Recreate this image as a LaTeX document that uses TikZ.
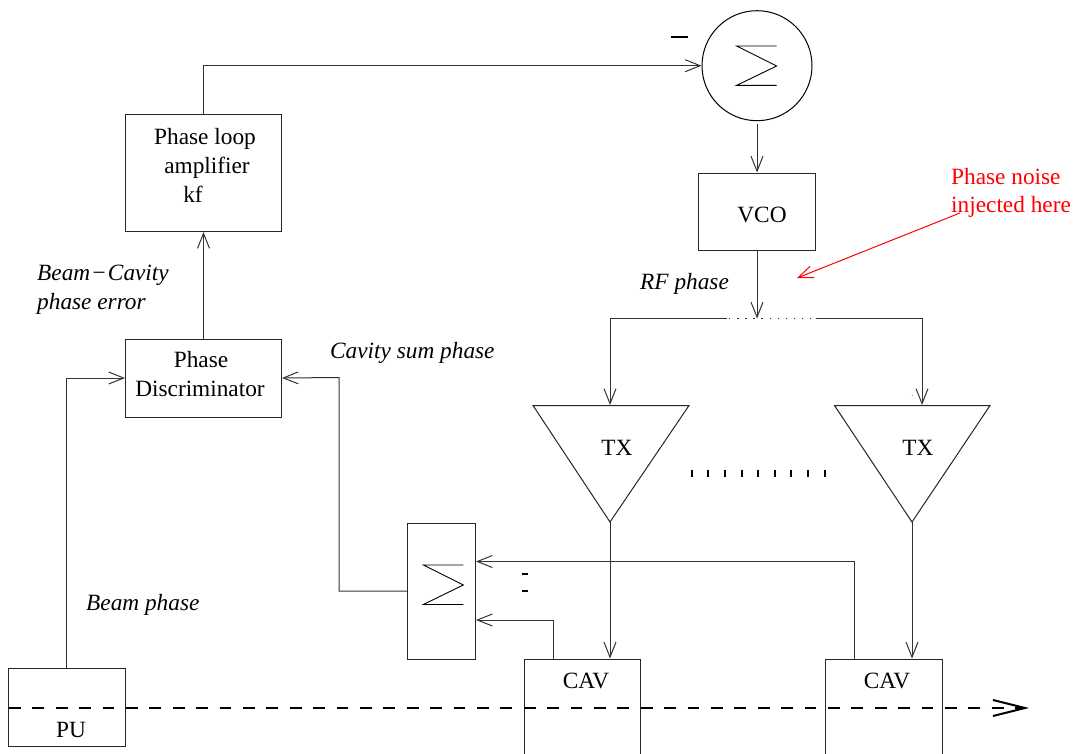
\documentclass[tikz,border=0pt]{standalone}
\usepackage{fontspec}
\setmainfont{Liberation Serif}
\usetikzlibrary{arrows.meta, calc}
\tikzset{
  wire/.style={line width=1pt, black!80},
  sig/.style={wire, -{Straight Barb[length=15pt,width=12pt,line width=1pt]}},
  boxnode/.style={draw, line width=1pt, black!85, inner sep=0pt, anchor=north west},
  lab/.style={font=\fontsize{23.3}{27}\selectfont, inner sep=0pt, anchor=base},
  ilab/.style={font=\fontsize{23.3}{27}\selectfont\itshape, inner sep=0pt, anchor=base west},
  rlab/.style={font=\fontsize{23.3}{27}\selectfont, text=red, inner sep=0pt, anchor=base west},
  sigma/.style={line width=0.9pt},
}
\begin{document}
\begin{tikzpicture}[x=1pt, y=-1pt]
    \clip (0,0) rectangle (1074,753);
    \fill[white] (0,0) rectangle (1074,753);

    % Blocks
    \node[draw, circle, line width=1pt, minimum size=110pt, inner sep=0pt] (sumtop) at (757,65.7) {};
    \node[boxnode, minimum width=117pt, minimum height=77.5pt] (vco) at (698.3,172.5) {};
    \node[boxnode, minimum width=156pt, minimum height=117pt] (amp) at (125,114) {};
    \node[boxnode, minimum width=156pt, minimum height=78pt] (disc) at (125,338.5) {};
    \node[boxnode, minimum width=117pt, minimum height=78pt] (pu) at (8,668) {};
    \node[boxnode, minimum width=68pt, minimum height=136pt] (sumbot) at (407,523) {};
    \node[boxnode, minimum width=116.5pt, minimum height=140pt] (cava) at (523.5,658.5) {};
    \node[boxnode, minimum width=116.5pt, minimum height=140pt] (cavb) at (825,658.5) {};

    % Transmitters
    \coordinate (txatip) at (610,522);
    \coordinate (txbtip) at (912,522);
    \draw[line width=1pt, black!85] (533,405.5) -- (689,405.5) -- (txatip) -- cycle;
    \draw[line width=1pt, black!85] (834.5,405.5) -- (990,405.5) -- (txbtip) -- cycle;

    % Sigma signs
    \draw[sigma] (776.7,46) -- (736.7,46) -- (776.7,66) -- (736.7,85.3) -- (776.7,85.3);
    \draw[sigma] (463.3,565) -- (423.3,565) -- (463.3,585) -- (423.3,604.5) -- (463.3,604.5);

    % Labels
    \node[lab] (amptxta) at (205,144) {Phase loop};
    \node[lab] (amptxtb) at (207,173) {amplifier};
    \node[lab] (amptxtc) at (193,202) {kf};
    \node[lab] (disctxta) at (201,367) {Phase};
    \node[lab] (disctxtb) at (200,396) {Discriminator};
    \node[lab] (vcotxt) at (762,222) {VCO};
    \node[lab] (txatxt) at (617,455) {TX};
    \node[lab] (txbtxt) at (918,455) {TX};
    \node[lab] (cavatxt) at (586,688) {CAV};
    \node[lab] (cavbtxt) at (887,688) {CAV};
    \node[lab] (putxt) at (71,737) {PU};
    \node[ilab] (errtxta) at (37,280) {Beam\kern1pt−\kern1ptCavity};
    \node[ilab] (errtxtb) at (37,309) {phase error};
    \node[ilab] (cavsumtxt) at (330,358) {Cavity sum phase};
    \node[ilab] (rftxt) at (640,289) {RF phase};
    \node[ilab] (beamtxt) at (86,610) {Beam phase};
    \node[rlab] (noisea) at (951,184) {Phase noise};
    \node[rlab] (noiseb) at (951,212) {injected here};

    % Signal path
    \coordinate (split) at (757,318.5);
    \coordinate (spleft) at (727,318.5);
    \coordinate (spright) at (815.5,318.5);
    \coordinate (txain) at (610,405);
    \coordinate (txbin) at (922,405);
    \draw[sig] (amp.north) |- (sumtop.west);
    \draw[sig] ($(sumtop.south)+(0,3)$) -- (sumtop.south |- vco.north);
    \draw[sig] (sumtop.south |- vco.south) -- (split);
    \foreach \x in {0,...,10}{
      \fill[black!85] (729+\x*8.1,318) rectangle +(1.4,1.2);
    }
    \draw[sig] (spleft) -| (txain);
    \draw[sig] (spright) -| (txbin);
    \draw[sig] (txatip) -- (txatip |- cava.north);
    \draw[sig] (txbtip) -- (txbtip |- cavb.north);
    \draw[sig] (disc.north) -- (amp.south);
    \draw[sig] (pu.north -| 66,0) |- (disc.west);
    \draw[sig] (sumbot.west |- 0,591) -| (339,377.5) -- (disc.east);
    \draw[sig] (854,658.5) |- (sumbot.east |- 0,561.5);
    \draw[sig] (553,658.5) |- (sumbot.east |- 0,620);

    % Signs and ticks
    \draw[line width=2pt] (670.7,37) -- (688,37);
    \draw[line width=2pt] (522,574) -- (527.5,574);
    \draw[line width=2pt] (522,591) -- (527.5,591);
    \foreach \i in {0,...,8}{
      \draw[line width=2pt] (691.7+\i*16.6,470) -- (691.7+\i*16.6,477);
    }
    \fill (912.3,395.7) circle (0.4pt);

    % Beam
    \coordinate (beamend) at (1025,708);
    \draw[line width=2.2pt, dash pattern=on 11.7pt off 11.7pt, dash phase=-1pt] (pu.west |- beamend) -- (beamend);
    \draw[line width=2pt, miter limit=20] (993,700) -- (beamend) -- (993,716);

    % Noise pointer
    \coordinate (noisetip) at (797,278);
    \draw[red, line width=1pt, -{Straight Barb[length=15pt,width=12pt,line width=1pt]}] (960,213) -- (noisetip);
\end{tikzpicture}
\end{document}
